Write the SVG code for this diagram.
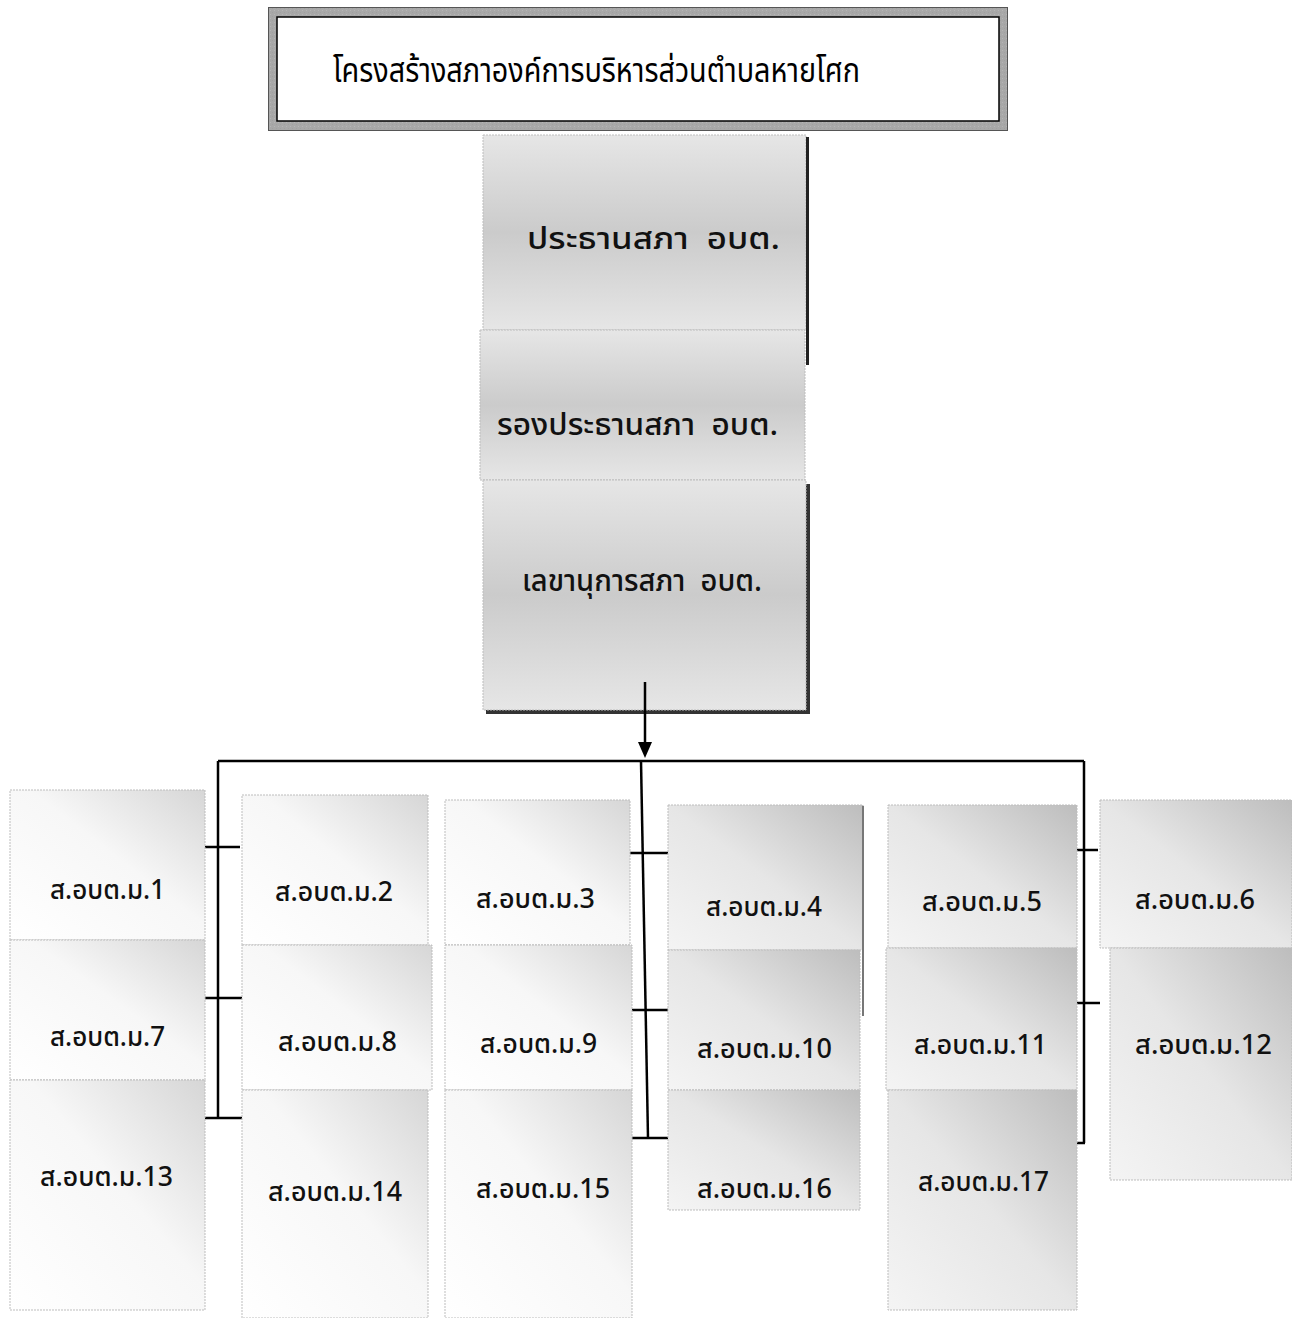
<svg xmlns="http://www.w3.org/2000/svg" width="1292" height="1318" viewBox="0 0 1292 1318">
<defs>
<style>
.lbl{font-family:"Noto Sans Thai","Noto Sans","DejaVu Sans",Tahoma,sans-serif;font-size:27px;font-weight:500;fill:#111}
.ctr{font-family:"Noto Sans Thai","Noto Sans","DejaVu Sans",Tahoma,sans-serif;font-size:30px;font-weight:500;fill:#111}
.ttl{font-family:"Noto Sans Thai","Noto Sans","DejaVu Sans",sans-serif;font-size:33px;fill:#000}
.box{stroke:#bdbdbd;stroke-width:1;stroke-dasharray:2 1}
.ln{stroke:#000;stroke-width:2.5;fill:none}
</style>
<linearGradient id="gBox" x1="0" y1="1" x2="1" y2="0">
<stop offset="0" stop-color="#ffffff"/>
<stop offset="0.55" stop-color="#f7f7f7"/>
<stop offset="1" stop-color="#d6d6d6"/>
</linearGradient>
<linearGradient id="gBoxD" x1="0" y1="1" x2="1" y2="0">
<stop offset="0" stop-color="#f4f4f4"/>
<stop offset="0.5" stop-color="#e6e6e6"/>
<stop offset="1" stop-color="#bdbdbd"/>
</linearGradient>
<linearGradient id="gCtr" x1="0" y1="0" x2="0" y2="1">
<stop offset="0" stop-color="#e6e6e6"/>
<stop offset="0.5" stop-color="#cbcbcb"/>
<stop offset="1" stop-color="#e6e6e6"/>
</linearGradient>
<pattern id="dots" width="4" height="4" patternUnits="userSpaceOnUse">
<rect width="1" height="1" fill="#9a9a9a"/>
<rect x="2" y="2" width="1" height="1" fill="#c0c0c0"/>
</pattern>
</defs>
<rect width="1292" height="1318" fill="#fff"/>

<g id="title">
<rect x="268" y="7" width="740" height="124" fill="#a8a8a8"/>
<rect x="268" y="7" width="740" height="124" fill="url(#dots)" opacity="0.6"/>
<rect x="277" y="17" width="722" height="104" fill="#fff" stroke="#000" stroke-width="1.5"/>
<rect x="268.5" y="7.5" width="739" height="123" fill="none" stroke="#555" stroke-width="1"/>
<text class="ttl" x="333" y="82" textLength="527" lengthAdjust="spacingAndGlyphs">โครงสร้างสภาองค์การบริหารส่วนตำบลหายโศก</text>
</g>

<g id="chairman">
<rect x="483" y="135" width="323" height="195" fill="url(#gCtr)" class="box"/>
<rect x="806" y="137" width="3" height="228" fill="#222"/>
<text class="ctr" x="527" y="249" textLength="253" lengthAdjust="spacingAndGlyphs" xml:space="preserve">ประธานสภา  อบต.</text>
</g>
<g id="vice-chairman">
<rect x="480" y="330" width="325" height="150" fill="url(#gCtr)" class="box"/>
<text class="ctr" x="497" y="435" textLength="281" lengthAdjust="spacingAndGlyphs" xml:space="preserve">รองประธานสภา  อบต.</text>
</g>
<g id="secretary">
<rect x="486" y="484" width="324" height="230" fill="#333"/>
<rect x="483" y="480" width="323" height="230" fill="url(#gCtr)" class="box"/>
<text class="ctr" x="522" y="591" textLength="240" lengthAdjust="spacingAndGlyphs" xml:space="preserve">เลขานุการสภา  อบต.</text>
</g>

<g id="connectors">
<line class="ln" x1="645" y1="682" x2="645" y2="744"/>
<polygon points="638,742 652,742 645,758" fill="#000"/>
<line class="ln" x1="218" y1="761" x2="1084" y2="761"/>
<line class="ln" x1="218" y1="761" x2="218" y2="1118"/>
<line class="ln" x1="200" y1="847" x2="240" y2="847"/>
<line class="ln" x1="205" y1="998" x2="245" y2="998"/>
<line class="ln" x1="200" y1="1118" x2="242" y2="1118"/>
<line class="ln" x1="641" y1="761" x2="648" y2="1138"/>
<line class="ln" x1="630" y1="853" x2="670" y2="853"/>
<line class="ln" x1="632" y1="1010" x2="674" y2="1010"/>
<line class="ln" x1="632" y1="1138" x2="670" y2="1138"/>
<line class="ln" x1="1084" y1="761" x2="1084" y2="1143"/>
<line class="ln" x1="1072" y1="850" x2="1098" y2="850"/>
<line class="ln" x1="1075" y1="1003" x2="1100" y2="1003"/>
<line class="ln" x1="1075" y1="1143" x2="1085" y2="1143"/>
</g>

<g id="m1"><rect x="10" y="790" width="195" height="150" fill="url(#gBox)" class="box"/><text class="lbl" x="50" y="899" textLength="115" lengthAdjust="spacingAndGlyphs">ส.อบต.ม.1</text></g>
<g id="m7"><rect x="10" y="940" width="195" height="140" fill="url(#gBox)" class="box"/><text class="lbl" x="50" y="1046" textLength="115" lengthAdjust="spacingAndGlyphs">ส.อบต.ม.7</text></g>
<g id="m13"><rect x="10" y="1080" width="195" height="230" fill="url(#gBox)" class="box"/><text class="lbl" x="40" y="1186" textLength="133" lengthAdjust="spacingAndGlyphs">ส.อบต.ม.13</text></g>

<g id="m2"><rect x="242" y="795" width="186" height="150" fill="url(#gBox)" class="box"/><text class="lbl" x="275" y="901" textLength="118" lengthAdjust="spacingAndGlyphs">ส.อบต.ม.2</text></g>
<g id="m8"><rect x="242" y="945" width="190" height="145" fill="url(#gBox)" class="box"/><text class="lbl" x="278" y="1051" textLength="119" lengthAdjust="spacingAndGlyphs">ส.อบต.ม.8</text></g>
<g id="m14"><rect x="242" y="1090" width="186" height="228" fill="url(#gBox)" class="box"/><text class="lbl" x="268" y="1201" textLength="134" lengthAdjust="spacingAndGlyphs">ส.อบต.ม.14</text></g>

<g id="m3"><rect x="445" y="800" width="185" height="145" fill="url(#gBox)" class="box"/><text class="lbl" x="476" y="908" textLength="119" lengthAdjust="spacingAndGlyphs">ส.อบต.ม.3</text></g>
<g id="m9"><rect x="445" y="945" width="187" height="145" fill="url(#gBox)" class="box"/><text class="lbl" x="480" y="1053" textLength="117" lengthAdjust="spacingAndGlyphs">ส.อบต.ม.9</text></g>
<g id="m15"><rect x="445" y="1090" width="187" height="228" fill="url(#gBox)" class="box"/><text class="lbl" x="476" y="1198" textLength="134" lengthAdjust="spacingAndGlyphs">ส.อบต.ม.15</text></g>

<g id="m4"><rect x="668" y="805" width="195" height="145" fill="url(#gBoxD)" class="box"/><rect x="862" y="806" width="2" height="210" fill="#777"/><text class="lbl" x="706" y="916" textLength="116" lengthAdjust="spacingAndGlyphs">ส.อบต.ม.4</text></g>
<g id="m10"><rect x="668" y="950" width="192" height="140" fill="url(#gBoxD)" class="box"/><text class="lbl" x="697" y="1058" textLength="135" lengthAdjust="spacingAndGlyphs">ส.อบต.ม.10</text></g>
<g id="m16"><rect x="668" y="1090" width="192" height="120" fill="url(#gBoxD)" class="box"/><text class="lbl" x="697" y="1198" textLength="135" lengthAdjust="spacingAndGlyphs">ส.อบต.ม.16</text></g>

<g id="m5"><rect x="888" y="805" width="189" height="143" fill="url(#gBoxD)" class="box"/><text class="lbl" x="922" y="911" textLength="120" lengthAdjust="spacingAndGlyphs">ส.อบต.ม.5</text></g>
<g id="m11"><rect x="886" y="948" width="191" height="142" fill="url(#gBoxD)" class="box"/><text class="lbl" x="914" y="1054" textLength="133" lengthAdjust="spacingAndGlyphs">ส.อบต.ม.11</text></g>
<g id="m17"><rect x="888" y="1090" width="189" height="220" fill="url(#gBoxD)" class="box"/><text class="lbl" x="918" y="1191" textLength="131" lengthAdjust="spacingAndGlyphs">ส.อบต.ม.17</text></g>

<g id="m6"><rect x="1100" y="800" width="192" height="148" fill="url(#gBoxD)" class="box"/><text class="lbl" x="1135" y="909" textLength="120" lengthAdjust="spacingAndGlyphs">ส.อบต.ม.6</text></g>
<g id="m12"><rect x="1110" y="948" width="182" height="232" fill="url(#gBoxD)" class="box"/><text class="lbl" x="1135" y="1054" textLength="137" lengthAdjust="spacingAndGlyphs">ส.อบต.ม.12</text></g>
</svg>
